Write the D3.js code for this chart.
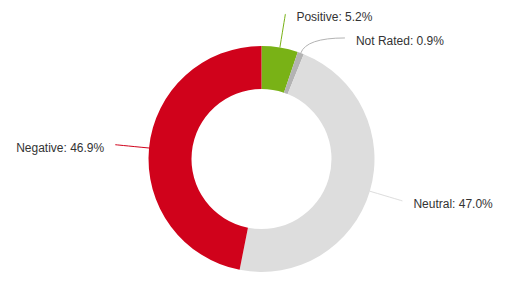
<!DOCTYPE html>
<html>
<head>
<meta charset="utf-8">
<script src="https://cdn.jsdelivr.net/npm/d3@7"></script>
<style>
  html, body { margin: 0; padding: 0; background: #fff; }
  svg { display: block; }
</style>
</head>
<body>
<div id="chart"></div>
<script>
var categories = ['Positive', 'Not Rated', 'Neutral', 'Negative'];
var values = [5.2, 0.9, 47.0, 46.9];
var colors = ['#79b216', '#b3b3b3', '#dddddd', '#d0021b'];

var width = 509;
var height = 289;
var cx = 261.5;
var cy = 159;
var outerR = 113;
var innerR = 70;
var labelR = 147;
var labelGap = 24;
var mainFont = '"Liberation Sans", Arial, sans-serif';

window.onload = function() {
    render();
};

function render() {
    var svg = d3.select('#chart').append('svg')
        .attr('width', width)
        .attr('height', height);

    var g = svg.append('g')
        .attr('transform', 'translate(' + cx + ',' + cy + ')');

    var pie = d3.pie().sort(null).value(function(d) { return d.value; });
    var arc = d3.arc().innerRadius(innerR).outerRadius(outerR);

    var data = categories.map(function(c, i) {
        return { name: c, value: values[i], color: colors[i] };
    });
    var arcs = pie(data);

    // slices
    g.selectAll('path.slice')
        .data(arcs)
        .enter().append('path')
        .attr('class', 'slice')
        .attr('d', arc)
        .attr('fill', function(d) { return d.data.color; });

    // label anchors on an outer circle, at each slice's mid angle
    var labels = arcs.map(function(d) {
        var a = (d.startAngle + d.endAngle) / 2;
        return {
            d: d,
            angle: a,
            right: Math.sin(a) >= 0,
            y: -labelR * Math.cos(a)
        };
    });

    // push overlapping labels apart, per side
    [true, false].forEach(function(side) {
        var list = labels.filter(function(l) { return l.right === side; })
            .sort(function(a, b) { return a.y - b.y; });
        for (var i = 1; i < list.length; i++) {
            if (list[i].y < list[i - 1].y + labelGap) {
                list[i].y = list[i - 1].y + labelGap;
            }
        }
    });

    labels.forEach(function(l) {
        var dy = Math.max(-labelR, Math.min(labelR, l.y));
        var dx = Math.sqrt(labelR * labelR - dy * dy);
        l.x = l.right ? dx : -dx;

        // start of connector on the slice edge
        var ex = outerR * Math.sin(l.angle);
        var ey = -outerR * Math.cos(l.angle);

        // bend point along the radial line at the label's height
        var c = Math.cos(l.angle);
        var r = Math.abs(c) > 0.05 ? -l.y / c : labelR;
        r = Math.max(outerR + 5, Math.min(labelR, r));
        var bx = r * Math.sin(l.angle);
        var by = -r * Math.cos(l.angle);

        g.append('path')
            .attr('d', 'M' + ex + ',' + ey + 'Q' + bx + ',' + by + ' ' + l.x + ',' + l.y)
            .attr('fill', 'none')
            .attr('stroke', l.d.data.color)
            .attr('stroke-width', 1);

        g.append('text')
            .attr('x', l.x + (l.right ? 11 : -11))
            .attr('y', l.y + 3)
            .attr('dy', '0.35em')
            .style('font-family', mainFont)
            .style('font-size', '12px')
            .style('fill', '#333333')
            .style('text-anchor', l.right ? 'start' : 'end')
            .text(l.d.data.name + ': ' + d3.format('.1f')(l.d.data.value) + '%');
    });
}
</script>
</body>
</html>
